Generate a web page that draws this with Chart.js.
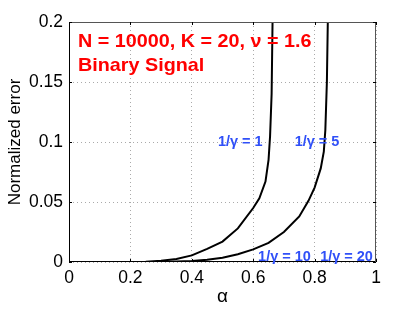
<!DOCTYPE html>
<html>
<head>
<meta charset="utf-8">
<script src="https://cdn.jsdelivr.net/npm/chart.js@4/dist/chart.umd.min.js"></script>
<style>
html,body{margin:0;padding:0;background:#fff;}
#wrap{width:415px;height:309px;position:relative;}
</style>
</head>
<body>
<div id="wrap"><canvas id="c" width="415" height="309"></canvas></div>
<script>
// Data
const alphaG1 = [0.05,0.1,0.15,0.2,0.25,0.3,0.35,0.4,0.45,0.5,0.55,0.6,0.62,0.64,0.65,0.655,0.66,0.663,0.665];
const errG1   = [0,0,0,0,0.0002,0.001,0.0025,0.0055,0.011,0.017,0.028,0.045,0.053,0.067,0.085,0.105,0.14,0.2,0.25];
const alphaG5 = [0.05,0.2,0.3,0.4,0.45,0.5,0.55,0.6,0.65,0.7,0.75,0.78,0.8,0.82,0.83,0.835,0.84,0.843,0.845];
const errG5   = [0,0,0,0.0008,0.0018,0.0035,0.0065,0.0105,0.016,0.025,0.038,0.051,0.062,0.078,0.092,0.11,0.15,0.2,0.25];
const xTickValues = [0,0.2,0.4,0.6,0.8,1];
const xTickLabels = ['0','0.2','0.4','0.6','0.8','1'];
const yTickValues = [0,0.05,0.1,0.15,0.2];
const yTickLabels = ['0','0.05','0.1','0.15','0.2'];
const curveLabels = [
  {text:'1/\u03B3 = 1', x:0.485, y:0.1},
  {text:'1/\u03B3 = 5', x:0.735, y:0.1},
  {text:'1/\u03B3 = 10', x:0.616, y:0.0},
  {text:'1/\u03B3 = 20', x:0.818, y:0.0}
];
const titleLines = ['N = 10000, K = 20, \u03BD = 1.6','Binary Signal'];

const toPts = (xs, ys) => xs.map((x,i)=>({x:x, y:ys[i]}));

const FONT = '"Liberation Sans", Arial, Helvetica, sans-serif';

function stretchText(ctx, text, x, y, sx){
  ctx.save();
  ctx.translate(x, y);
  ctx.scale(sx, 1);
  ctx.fillText(text, 0, 0);
  ctx.restore();
}

const framePlugin = {
  id:'frame',
  afterDraw(chart){
    const {ctx, chartArea:a, scales} = chart;
    ctx.save();
    // frame
    ctx.lineWidth = 1;
    ctx.strokeStyle = '#000';
    ctx.beginPath();
    ctx.moveTo(a.left+0.5, a.top);
    ctx.lineTo(a.left+0.5, a.bottom-0.5);
    ctx.lineTo(a.right, a.bottom-0.5);
    ctx.stroke();
    ctx.strokeStyle = '#555';
    ctx.beginPath();
    ctx.moveTo(a.left, a.top+0.5);
    ctx.lineTo(a.right-0.5, a.top+0.5);
    ctx.lineTo(a.right-0.5, a.bottom);
    ctx.stroke();
    // inward ticks
    ctx.strokeStyle = '#000';
    ctx.beginPath();
    xTickValues.forEach(v=>{
      const px = Math.round(scales.x.getPixelForValue(v))+0.5;
      ctx.moveTo(px, a.bottom); ctx.lineTo(px, a.bottom-3);
      ctx.moveTo(px, a.top); ctx.lineTo(px, a.top+3);
    });
    yTickValues.forEach(v=>{
      const py = Math.round(scales.y.getPixelForValue(v))+0.5;
      ctx.moveTo(a.left, py); ctx.lineTo(a.left+3, py);
      ctx.moveTo(a.right, py); ctx.lineTo(a.right-3, py);
    });
    ctx.stroke();
    // title text
    ctx.fillStyle = '#ff0000';
    ctx.font = 'bold 19px ' + FONT;
    ctx.textBaseline = 'middle';
    ctx.textAlign = 'left';
    stretchText(ctx, titleLines[0], a.left+9, a.top+20, 1.04);
    stretchText(ctx, titleLines[1], a.left+9, a.top+44, 1.04);
    // curve labels
    ctx.fillStyle = '#3050f8';
    ctx.font = 'bold 14.5px ' + FONT;
    curveLabels.forEach(l=>{
      const px = scales.x.getPixelForValue(l.x);
      let py = scales.y.getPixelForValue(l.y);
      ctx.textBaseline = l.y === 0 ? 'bottom' : 'middle';
      if (l.y === 0) py += 2;
      stretchText(ctx, l.text, px, py, 1.0);
    });
    ctx.restore();
  }
};

new Chart(document.getElementById('c'), {
  type:'scatter',
  data:{
    datasets:[
      {data:toPts(alphaG1, errG1), showLine:true, borderColor:'#000', borderWidth:2, pointRadius:0, tension:0},
      {data:toPts(alphaG5, errG5), showLine:true, borderColor:'#000', borderWidth:2, pointRadius:0, tension:0}
    ]
  },
  options:{
    responsive:false,
    animation:false,
    devicePixelRatio:1,
    layout:{padding:{left:0, top:22, right:39, bottom:0}},
    plugins:{legend:{display:false}, tooltip:{enabled:false}},
    scales:{
      x:{
        type:'linear', min:0, max:1,
        afterBuildTicks(s){ s.ticks = xTickValues.map(v=>({value:v})); },
        afterFit(s){ s.height = 47; },
        ticks:{ padding:6, color:'#000', font:{family:FONT, size:17.5},
          callback:(v)=>{ const i = xTickValues.indexOf(v); return i>=0 ? xTickLabels[i] : ''; } },
        grid:{ color:'#aaa', lineWidth:1, drawTicks:false },
        border:{ display:false, dash:[1,3] },
        title:{ display:true, text:'\u03B1', color:'#000', font:{family:FONT, size:19}, padding:{top:0, bottom:1} }
      },
      y:{
        type:'linear', min:0, max:0.2,
        afterBuildTicks(s){ s.ticks = yTickValues.map(v=>({value:v})); },
        afterFit(s){ s.width = 69; },
        ticks:{ padding:6, color:'#000', font:{family:FONT, size:17.5},
          callback:(v)=>{ const i = yTickValues.findIndex(t=>Math.abs(t-v)<1e-9); return i>=0 ? yTickLabels[i] : ''; } },
        grid:{ color:'#aaa', lineWidth:1, drawTicks:false },
        border:{ display:false, dash:[1,3] },
        title:{ display:true, text:'Normalized error', color:'#000', font:{family:FONT, size:17}, padding:{top:5, bottom:0} }
      }
    }
  },
  plugins:[framePlugin]
});
</script>
</body>
</html>
